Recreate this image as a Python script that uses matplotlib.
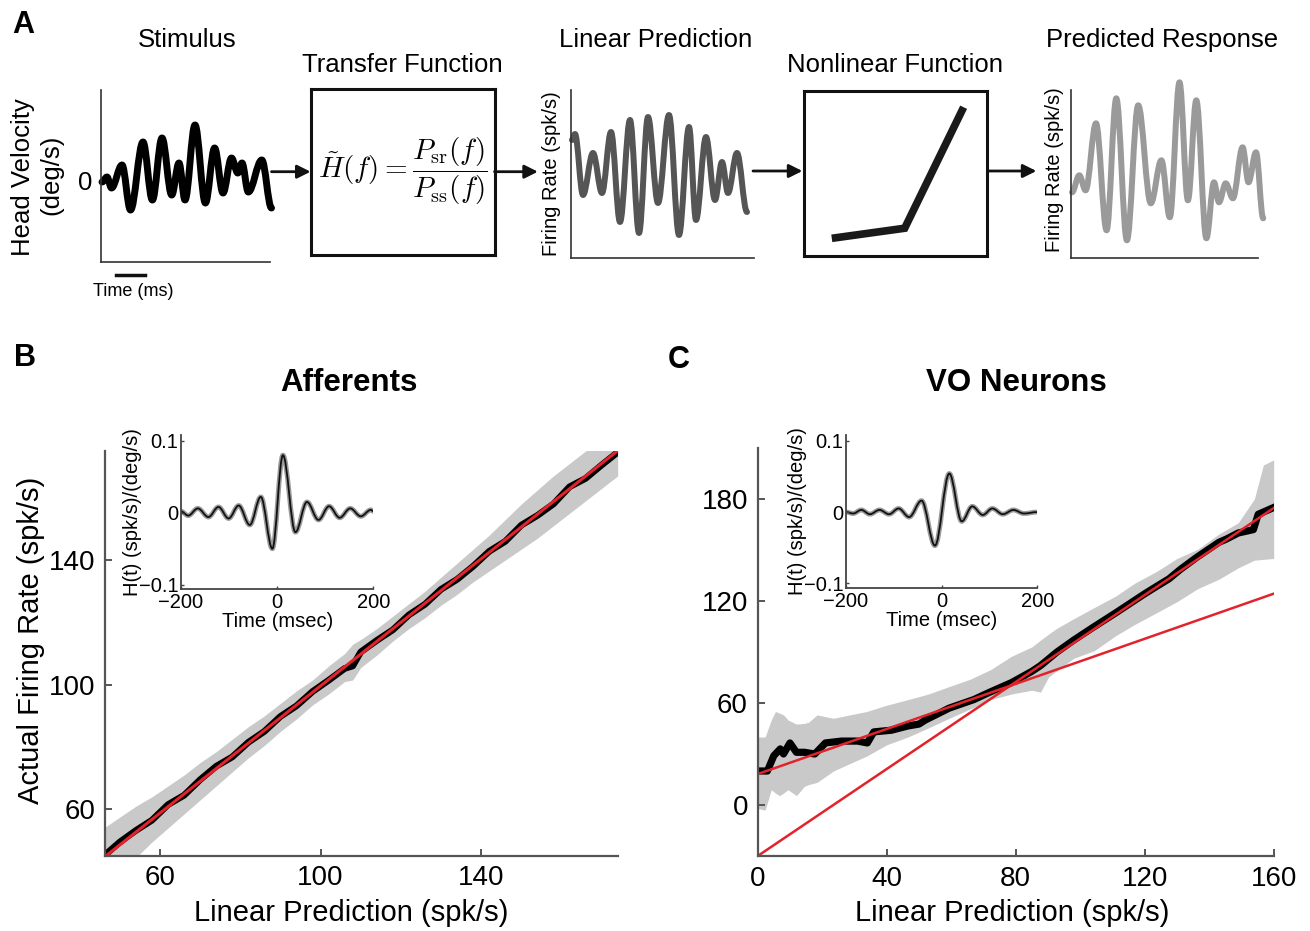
import matplotlib
matplotlib.use('Agg')
import matplotlib.pyplot as plt
from matplotlib.path import Path
from matplotlib.patches import PathPatch, FancyArrowPatch
from matplotlib.lines import Line2D

plt.rcParams['font.family'] = ['Liberation Sans', 'DejaVu Sans']
plt.rcParams['mathtext.fontset'] = 'cm'
plt.rcParams['axes.unicode_minus'] = True

# ---------------- data ----------------
# Panel A (schematic, arbitrary units)
stim_t = [1, 6, 10.5, 21, 29.5, 42, 51.4, 61, 70.7, 78, 84, 94, 104.4, 113.6, 122, 130.5, 136.8, 141, 147.3, 160.8, 170.5]
stim_v = [-1, 4, -7, 16, -29, 39, -19, 43, -14, 18, -19, 56, -22, 33, -12, 23, 8, 18, -11, 21, -27]

linpred_t = [1, 4, 12, 22, 31, 40, 49, 59, 68, 77, 87, 98, 108, 118, 125, 135, 144, 151, 157, 166, 176]
linpred_v = [118, 124, 63, 105, 65, 126, 36, 138, 25, 141, 55, 143, 23, 131, 38, 121, 58, 96, 65, 105, 46]

predresp_t = [1, 8.3, 14.6, 25, 35.6, 45.3, 55.9, 67.2, 79.8, 90.4, 98.8, 108.5, 116.9, 125.3, 135.4, 143, 148, 154.7, 161.9, 171.6, 177.5, 185, 192.2]
predresp_v = [66, 83, 68, 135, 28, 160, 18, 153, 55, 98, 41, 176, 58, 158, 20, 76, 56, 75, 60, 111, 76, 106, 40]

nonlin_x = [0.154, 0.552, 0.874]
nonlin_y = [0.107, 0.168, 0.900]

# Panel B (Afferents)
b_x = [46, 50, 54, 58, 62, 66, 70, 74, 78, 82, 86, 90, 94, 98, 102, 106, 108, 110, 114, 118,
       122, 126, 130, 134, 138, 142, 146, 150, 154, 158, 162, 166, 170, 174]
b_black = [45.0, 49.5, 53.2, 56.5, 61.5, 64.5, 69.5, 73.8, 76.8, 81.5, 85.0, 89.8, 93.2, 97.8, 101.4,
           105.2, 106.0, 110.5, 114.2, 117.6, 122.4, 125.8, 130.6, 133.8, 138.0, 142.8, 146.0, 151.2,
           154.3, 158.0, 163.5, 166.2, 170.5, 174.6]
b_hi = [54, 57.5, 61, 64, 67.5, 71, 75, 78.5, 82.5, 86.5, 90, 94, 98, 101.5, 106, 110, 113, 114.5, 118,
        122, 126, 130, 134.5, 139, 143.5, 148, 153, 158, 162.5, 167, 171, 175, 178, 182]
b_lo = [36, 40, 44.5, 49.5, 54, 58.5, 63, 67.5, 72, 76.5, 80.5, 85, 89, 93.5, 97, 101, 101.5, 105.5,
        109.5, 114, 118, 121.5, 125.5, 129, 133, 136.5, 140, 143.5, 147, 151, 155, 159, 163, 167]
b_fit_x = [46.3, 174]
b_fit_y = [44.8, 175.1]

# Panel C (VO neurons)
c_x = [0, 3, 5, 7, 8, 10, 12, 14.5, 17.7, 21, 26, 31, 34, 36, 41.5, 46.6, 50, 52, 59.4, 67, 72,
       78.7, 85, 87.7, 92.8, 98, 104, 111, 114.6, 119.8, 123.6, 127.5, 131, 136, 143, 145.4, 149,
       153.7, 155.2, 160]
c_black = [20, 20, 29, 33, 30, 36.5, 31, 31, 30, 36.5, 37.6, 37.6, 36.5, 43, 44, 46.5, 47.6, 50, 57,
           62, 66.4, 72, 78.6, 82, 90, 97, 104.5, 113, 117.5, 124, 128.5, 133, 138.5, 145.5, 154.5,
           156.5, 160, 162, 171, 175]
c_band_x = [0, 2.3, 4.2, 5.5, 6.8, 8, 9.4, 12, 14.5, 15.8, 18.4, 23.5, 28.6, 33.8, 40, 46.6, 53, 59.4,
            65.9, 72.3, 78.7, 85, 87.7, 90.2, 92.8, 98, 104.4, 111, 117, 123.6, 130, 136.5, 143, 149,
            154, 156.8, 160]
c_hi = [40, 40, 50, 55, 54, 53, 50, 47.6, 48, 48.7, 53, 51, 53, 55, 58.7, 62, 65.3, 69.7, 74, 79.7,
        87.5, 93, 97, 100.5, 104, 109.6, 116.2, 122.9, 130.6, 137.3, 145, 150.5, 159.4, 166, 180, 200, 203]
c_lo = [-2, -3, 9, 7, 5.5, 7, 9, 5.5, 11, 12, 13.3, 20, 24.4, 28.8, 35.4, 40, 45.4, 51, 56.5, 62,
        65.3, 67.5, 66.4, 75.3, 79, 86.3, 90.8, 99.6, 106.3, 113, 119.6, 127.3, 132.8, 139.5, 144, 144.5, 145]
c_fit_lo_x = [0, 160]
c_fit_lo_y = [18.2, 124.3]
c_fit_hi_x = [0, 160]
c_fit_hi_y = [-30, 174.7]

# Insets: transfer-function kernels (extrema)
kb_t = [-200, -185, -165, -143, -122, -101, -80, -57, -34, -10, 12, 38, 62, 86, 108, 130, 152, 174, 195, 200]
kb_v = [0.002, -0.004, 0.006, -0.006, 0.008, -0.008, 0.010, -0.017, 0.022, -0.050, 0.080, -0.027,
        0.015, -0.010, 0.009, -0.007, 0.006, -0.005, 0.004, 0.002]
kc_t = [-200, -185, -168, -150, -130, -110, -90, -68, -42, -14, 16, 42, 64, 86, 106, 128, 150, 172, 200]
kc_v = [0.0, -0.002, 0.003, -0.003, 0.003, -0.003, 0.005, -0.007, 0.016, -0.047, 0.054, -0.013,
        0.008, -0.004, 0.005, -0.003, 0.003, -0.002, 0.0]

b_xticks = [60, 100, 140]
b_yticks = [60, 100, 140]
c_xticks = [0, 40, 80, 120, 160]
c_yticks = [0, 60, 120, 180]
k_xticks = [-200, 0, 200]
k_yticks = [-0.1, 0, 0.1]

# ---------------- helpers ----------------
W, H = 1310, 931
fig = plt.figure(figsize=(W / 100, H / 100), dpi=100)


def rect(l, t, r, b):
    return [l / W, 1 - b / H, (r - l) / W, (b - t) / H]


def fx(x):
    return x / W


def fy(y):
    return 1 - y / H


def smooth(ax, xs, ys, **kw):
    verts = [(xs[0], ys[0])]
    codes = [Path.MOVETO]
    for x0, y0, x1, y1 in zip(xs[:-1], ys[:-1], xs[1:], ys[1:]):
        d = (x1 - x0) * 0.36
        verts += [(x0 + d, y0), (x1 - d, y1), (x1, y1)]
        codes += [Path.CURVE4] * 3
    p = PathPatch(Path(verts, codes), fill=False, capstyle='round', joinstyle='round', **kw)
    ax.add_patch(p)
    return p


def small_axes(r):
    ax = fig.add_axes(r)
    for s in ['top', 'right']:
        ax.spines[s].set_visible(False)
    for s in ['left', 'bottom']:
        ax.spines[s].set_linewidth(1.2)
        ax.spines[s].set_color('#333333')
    ax.set_xticks([])
    ax.set_yticks([])
    ax.patch.set_alpha(0)
    return ax


def box_axes(r):
    ax = fig.add_axes(r)
    for s in ax.spines.values():
        s.set_linewidth(2.2)
        s.set_color('#111111')
    ax.set_xticks([])
    ax.set_yticks([])
    ax.set_xlim(0, 1)
    ax.set_ylim(0, 1)
    return ax


# ---------------- Panel A ----------------
fs_a = 18.5
ax_s = small_axes(rect(101, 90, 270, 262))
ax_s.set_xlim(0, 169)
ax_s.set_ylim(-81, 91)
smooth(ax_s, stim_t, stim_v, lw=5, color='black', clip_on=False)
ax_s.set_yticks([0])
ax_s.set_yticklabels(['0'], fontsize=fs_a)
ax_s.tick_params(axis='y', length=0, pad=6)

ax_t = box_axes(rect(311, 89, 494.5, 254.5))
ax_t.text(0.5, 0.5, r'$\tilde{H}(f)=\dfrac{P_{\rm sr}(f)}{P_{\rm ss}(f)}$', fontsize=21,
          ha='center', va='center', transform=ax_t.transAxes)

ax_l = small_axes(rect(571, 90, 754, 258))
ax_l.set_xlim(0, 183)
ax_l.set_ylim(0, 168)
smooth(ax_l, linpred_t, linpred_v, lw=4.3, color='#555555', clip_on=False)

ax_n = box_axes(rect(803.6, 90.7, 986.7, 256))
ax_n.plot(nonlin_x, nonlin_y, color='#1a1a1a', lw=5.5, solid_capstyle='butt', solid_joinstyle='miter')

ax_p = small_axes(rect(1071, 90, 1258, 258.3))
ax_p.set_xlim(0, 187)
ax_p.set_ylim(0, 168.3)
smooth(ax_p, predresp_t, predresp_v, lw=4.3, color='#9a9a9a', clip_on=False)

for x0, x1, y in [(271.5, 310.6, 171.7), (494.5, 537.9, 171.7), (753, 802.4, 171), (988, 1036.4, 171)]:
    fig.add_artist(FancyArrowPatch((fx(x0), fy(y)), (fx(x1), fy(y)), transform=fig.transFigure,
                                   arrowstyle='-|>', mutation_scale=20, lw=2, color='#111111',
                                   shrinkA=0, shrinkB=0))

fig.add_artist(Line2D([fx(115.7), fx(145.2)], [fy(275), fy(275)], lw=2.5, color='#111111'))

fig.text(fx(23), fy(25), 'A', fontsize=22, fontweight='bold', ha='center', va='center')
fig.text(fx(187), fy(40), 'Stimulus', fontsize=fs_a, ha='center', va='center')
fig.text(fx(402), fy(65), 'Transfer Function', fontsize=fs_a, ha='center', va='center')
fig.text(fx(656), fy(40), 'Linear Prediction', fontsize=fs_a, ha='center', va='center')
fig.text(fx(895), fy(65), 'Nonlinear Function', fontsize=fs_a, ha='center', va='center')
fig.text(fx(1162), fy(40), 'Predicted Response', fontsize=fs_a, ha='center', va='center')
fig.text(fx(23), fy(177), 'Head Velocity', fontsize=fs_a, rotation=90, ha='center', va='center')
fig.text(fx(51), fy(175), '(deg/s)', fontsize=fs_a, rotation=90, ha='center', va='center')
fig.text(fx(551.3), fy(174), 'Firing Rate (spk/s)', fontsize=14.5, rotation=90, ha='center', va='center')
fig.text(fx(1054), fy(170), 'Firing Rate (spk/s)', fontsize=14.5, rotation=90, ha='center', va='center')
fig.text(fx(133.6), fy(291.7), 'Time (ms)', fontsize=13, ha='center', va='center')


# ---------------- Panels B and C ----------------
def main_axes(r):
    ax = fig.add_axes(r)
    for s in ['top', 'right']:
        ax.spines[s].set_visible(False)
    for s in ['left', 'bottom']:
        ax.spines[s].set_linewidth(1.6)
        ax.spines[s].set_color('#555555')
    ax.tick_params(direction='in', length=5, width=1.4, color='#555555', labelsize=20, pad=7)
    return ax


red = '#e3232b'
band = '#c9c9c9'

axB = main_axes(rect(105, 451, 617.7, 855.7))
axB.set_xlim(46.3, 174)
axB.set_ylim(45.1, 175)
axB.fill_between(b_x, b_lo, b_hi, color=band, lw=0)
axB.plot(b_x, b_black, color='black', lw=4.8, solid_joinstyle='round')
axB.plot(b_fit_x, b_fit_y, color=red, lw=2.2)
axB.set_xticks(b_xticks)
axB.set_yticks(b_yticks)

axC = main_axes(rect(757.7, 448, 1273.7, 856))
axC.set_xlim(0, 160)
axC.set_ylim(-30, 210)
axC.fill_between(c_band_x, c_lo, c_hi, color=band, lw=0)
axC.plot(c_x, c_black, color='black', lw=5.2, solid_joinstyle='round')
axC.plot(c_fit_lo_x, c_fit_lo_y, color=red, lw=1.8)
axC.plot(c_fit_hi_x, c_fit_hi_y, color=red, lw=1.8)
axC.set_xticks(c_xticks)
axC.set_yticks(c_yticks)

fig.text(fx(24.6), fy(358), 'B', fontsize=22, fontweight='bold', ha='center', va='center')
fig.text(fx(678.6), fy(360), 'C', fontsize=22, fontweight='bold', ha='center', va='center')
fig.text(fx(349.4), fy(383), 'Afferents', fontsize=22.5, fontweight='bold', ha='center', va='center')
fig.text(fx(1016), fy(383), 'VO Neurons', fontsize=22.5, fontweight='bold', ha='center', va='center')
fig.text(fx(351), fy(913), 'Linear Prediction (spk/s)', fontsize=21, ha='center', va='center')
fig.text(fx(1012), fy(913), 'Linear Prediction (spk/s)', fontsize=21, ha='center', va='center')
fig.text(fx(31), fy(640), 'Actual Firing Rate (spk/s)', fontsize=21, rotation=90, ha='center', va='center')


# ---------------- Insets ----------------
def inset(r, t, v):
    ax = fig.add_axes(r)
    ax.patch.set_alpha(0)
    for s in ['top', 'right']:
        ax.spines[s].set_visible(False)
    for s in ['left', 'bottom']:
        ax.spines[s].set_linewidth(1.3)
        ax.spines[s].set_color('#444444')
    ax.set_xlim(-200, 200)
    ax.set_ylim(-0.106, 0.108)
    ax.set_xticks(k_xticks)
    ax.set_yticks(k_yticks)
    ax.set_yticklabels(['\u22120.1', '0', '0.1'])
    ax.set_xticklabels(['\u2212200', '0', '200'])
    ax.tick_params(direction='in', length=2, width=1, color='#444444', labelsize=14.5, pad=2)
    ax.tick_params(axis='x', pad=3)
    smooth(ax, t, v, lw=3.5, color='#9a9a9a')
    smooth(ax, t, v, lw=1.3, color='#111111')
    ax.set_xlabel('Time (msec)', fontsize=14.5, labelpad=0)
    ax.set_ylabel('H(t) (spk/s)/(deg/s)', fontsize=14.5)
    ax.yaxis.set_label_coords(-0.205, 0.5)
    return ax


inset(rect(181, 435, 373.3, 589), kb_t, kb_v)
inset(rect(846, 435, 1037.3, 587.7), kc_t, kc_v)

fig.savefig('out.png', dpi=100)
